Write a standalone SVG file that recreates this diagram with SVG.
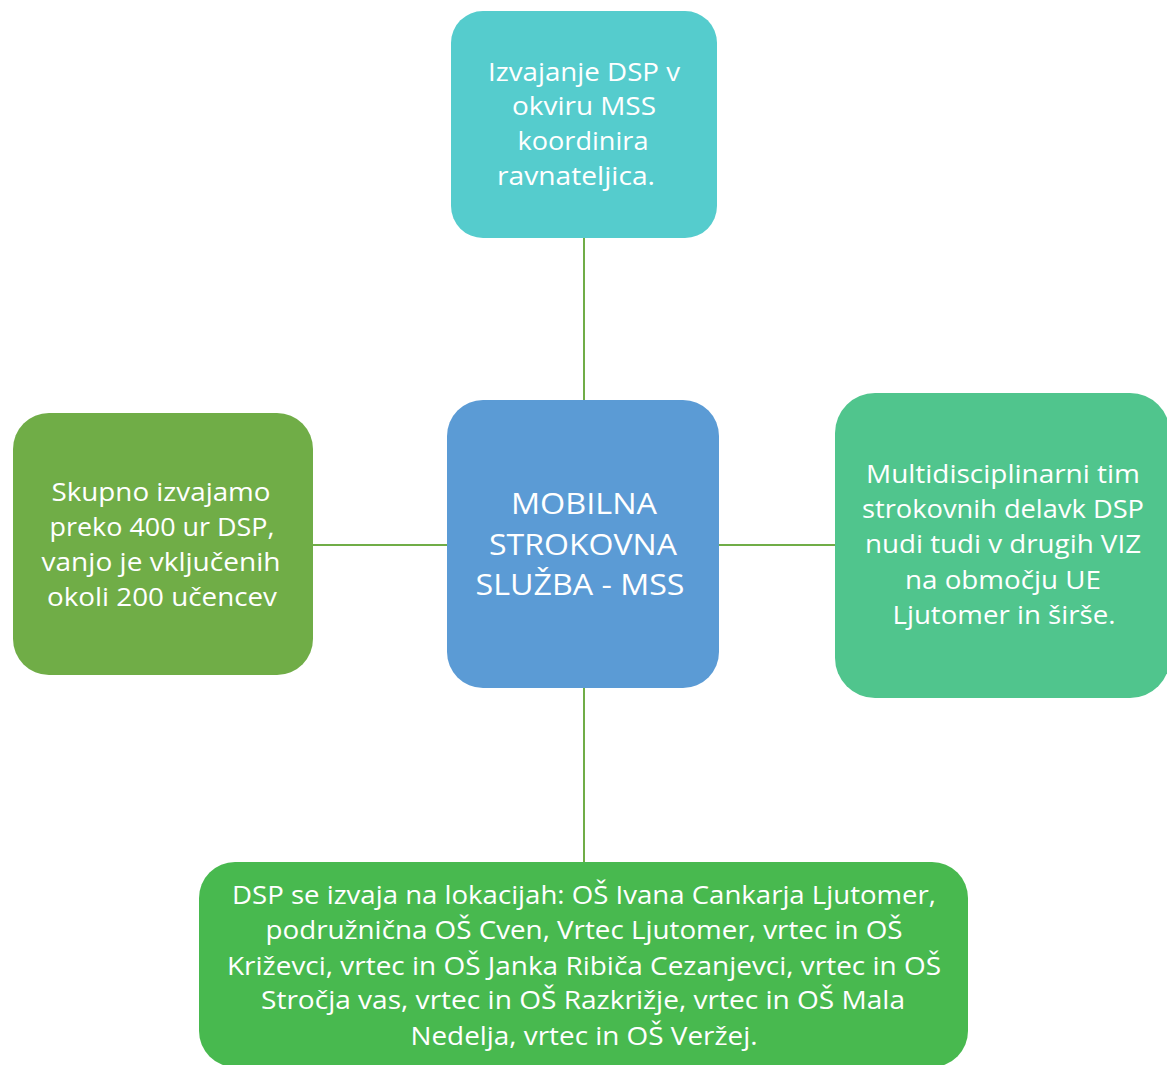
<svg xmlns="http://www.w3.org/2000/svg" width="1167" height="1065" viewBox="0 0 1167 1065">
<style>
.t{font-family:"Open Sans","Liberation Sans",sans-serif;font-size:25px;fill:#fff;text-anchor:middle}
.c{font-size:29px}
.ln{stroke:#70AD47;stroke-width:2;fill:none}
</style>
<rect width="1167" height="1065" fill="#fff"/>
<g id="connectors">
<line class="ln" x1="584" y1="238" x2="584" y2="401"/>
<line class="ln" x1="313" y1="545" x2="447" y2="545"/>
<line class="ln" x1="719" y1="545" x2="835" y2="545"/>
<line class="ln" x1="584" y1="688" x2="584" y2="862"/>
</g>
<g id="node-top">
<rect x="451" y="11" width="266" height="227" rx="32" fill="#55CCCD"/>
<text class="t" x="584" y="81" textLength="192" lengthAdjust="spacingAndGlyphs">Izvajanje DSP v</text>
<text class="t" x="584" y="115" textLength="144" lengthAdjust="spacingAndGlyphs">okviru MSS</text>
<text class="t" x="583" y="150" textLength="131" lengthAdjust="spacingAndGlyphs">koordinira</text>
<text class="t" x="576" y="185" textLength="158" lengthAdjust="spacingAndGlyphs">ravnateljica.</text>
</g>
<g id="node-center">
<rect x="447" y="400" width="272" height="288" rx="36" fill="#5B9BD5"/>
<text class="t c" x="584" y="514" textLength="146" lengthAdjust="spacingAndGlyphs">MOBILNA</text>
<text class="t c" x="583" y="555" textLength="188" lengthAdjust="spacingAndGlyphs">STROKOVNA</text>
<text class="t c" x="580" y="595" textLength="209" lengthAdjust="spacingAndGlyphs">SLUŽBA - MSS</text>
</g>
<g id="node-left">
<rect x="13" y="413" width="300" height="262" rx="36" fill="#70AD47"/>
<text class="t" x="161" y="501" textLength="219" lengthAdjust="spacingAndGlyphs">Skupno izvajamo</text>
<text class="t" x="162" y="536" textLength="225" lengthAdjust="spacingAndGlyphs">preko 400 ur DSP,</text>
<text class="t" x="161" y="571" textLength="239" lengthAdjust="spacingAndGlyphs">vanjo je vključenih</text>
<text class="t" x="162" y="606" textLength="230" lengthAdjust="spacingAndGlyphs">okoli 200 učencev</text>
</g>
<g id="node-right">
<rect x="835" y="393" width="335" height="305" rx="40" fill="#50C58D"/>
<text class="t" x="1003" y="483" textLength="274" lengthAdjust="spacingAndGlyphs">Multidisciplinarni tim</text>
<text class="t" x="1003" y="518" textLength="282" lengthAdjust="spacingAndGlyphs">strokovnih delavk DSP</text>
<text class="t" x="1003" y="553" textLength="276" lengthAdjust="spacingAndGlyphs">nudi tudi v drugih VIZ</text>
<text class="t" x="1003" y="589" textLength="196" lengthAdjust="spacingAndGlyphs">na območju UE</text>
<text class="t" x="1004" y="624" textLength="223" lengthAdjust="spacingAndGlyphs">Ljutomer in širše.</text>
</g>
<g id="node-bottom">
<rect x="199" y="862" width="769" height="205" rx="36" fill="#48B94F"/>
<text class="t" x="584" y="904" textLength="704" lengthAdjust="spacingAndGlyphs">DSP se izvaja na lokacijah: OŠ Ivana Cankarja Ljutomer,</text>
<text class="t" x="584" y="939" textLength="637" lengthAdjust="spacingAndGlyphs">podružnična OŠ Cven, Vrtec Ljutomer, vrtec in OŠ</text>
<text class="t" x="584" y="975" textLength="714" lengthAdjust="spacingAndGlyphs">Križevci, vrtec in OŠ Janka Ribiča Cezanjevci, vrtec in OŠ</text>
<text class="t" x="583" y="1009" textLength="644" lengthAdjust="spacingAndGlyphs">Stročja vas, vrtec in OŠ Razkrižje, vrtec in OŠ Mala</text>
<text class="t" x="584" y="1045" textLength="347" lengthAdjust="spacingAndGlyphs">Nedelja, vrtec in OŠ Veržej.</text>
</g>
</svg>
